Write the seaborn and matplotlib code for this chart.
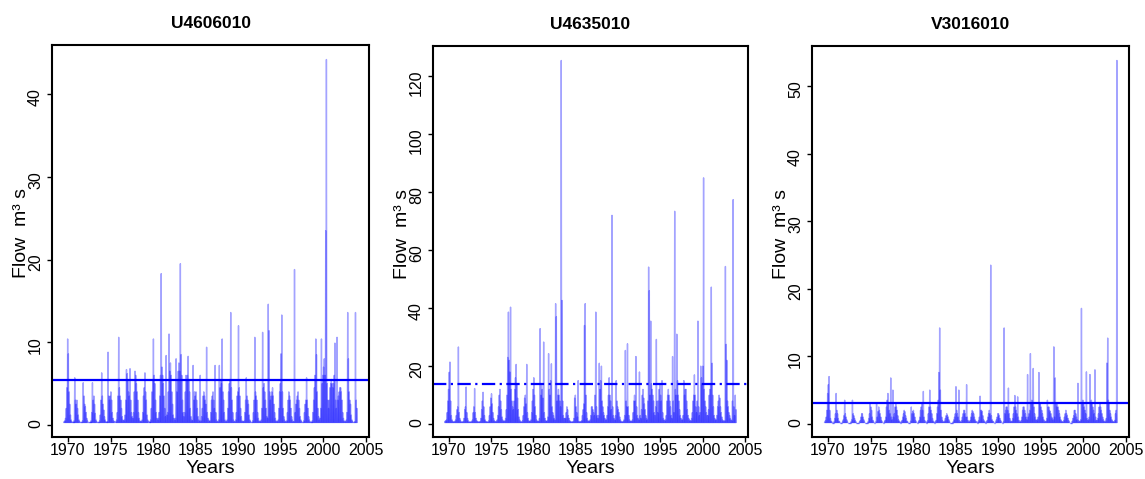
import numpy as np
import pandas as pd
import matplotlib
matplotlib.use("Agg")
import matplotlib.pyplot as plt
import seaborn as sns

# ---------------- data (monthly peak flows) ----------------
stations = ["U4606010", "U4635010", "V3016010"]
start_year, start_month = 1969, 7          # series starts July 1969, ends Dec 2003

u4606010_flow = [
    0.4, 0.5, 0.8, 2.0, 4.5, 10.4,                               # 1969 Jul-Dec
    8.6, 4.0, 2.5, 1.2, 0.6, 0.4, 0.3, 0.3, 0.5, 5.7, 3.0, 2.5,  # 1970
    3.0, 2.0, 1.2, 0.6, 0.4, 0.3, 0.3, 0.3, 0.5, 5.1, 3.5, 2.5,  # 1971
    2.2, 1.5, 0.8, 0.5, 0.3, 0.3, 0.3, 0.3, 0.5, 1.5, 5.1, 3.0,  # 1972
    3.5, 2.5, 1.4, 0.6, 0.4, 0.3, 0.3, 0.3, 0.5, 1.2, 3.0, 6.3,  # 1973
    3.5, 2.5, 1.8, 1.0, 0.6, 0.4, 0.3, 0.4, 8.8, 3.5, 3.0, 3.5,  # 1974
    4.0, 3.0, 1.5, 0.8, 0.5, 0.4, 0.3, 0.4, 0.6, 1.5, 3.5, 10.6, # 1975
    4.5, 3.5, 3.0, 2.0, 1.0, 0.6, 0.5, 0.6, 1.2, 3.0, 6.7, 6.2,  # 1976
    5.5, 4.0, 3.5, 6.8, 3.0, 1.5, 1.0, 0.8, 1.5, 4.0, 6.5, 6.0,  # 1977
    5.0, 4.0, 3.0, 1.5, 0.8, 0.5, 0.4, 0.4, 0.6, 1.5, 3.5, 4.5,  # 1978
    6.3, 4.0, 3.0, 1.2, 0.6, 0.4, 0.3, 0.4, 0.6, 2.0, 4.0, 5.5,  # 1979
    10.4, 6.0, 5.0, 3.0, 1.5, 0.8, 0.6, 0.8, 1.5, 3.5, 6.0, 18.3,# 1980
    7.0, 6.0, 5.0, 3.5, 2.0, 1.0, 8.4, 1.2, 1.5, 4.0, 11.0, 6.5, # 1981
    7.5, 6.0, 4.0, 2.5, 1.2, 0.8, 0.6, 0.8, 8.0, 4.0, 5.5, 6.5,  # 1982
    7.5, 6.5, 19.5, 8.5, 6.0, 3.0, 1.5, 1.0, 1.5, 4.0, 6.0, 5.5, # 1983
    6.0, 8.3, 5.5, 4.0, 2.0, 1.0, 0.6, 0.5, 7.2, 3.0, 4.0, 3.5,  # 1984
    4.0, 3.0, 2.0, 1.0, 0.6, 0.4, 6.0, 0.5, 1.0, 2.0, 3.5, 4.0,  # 1985
    3.5, 3.0, 2.5, 9.4, 1.5, 0.8, 0.6, 0.4, 0.5, 1.5, 3.0, 3.5,  # 1986
    4.0, 3.0, 2.0, 7.2, 1.5, 0.6, 0.4, 0.4, 0.6, 7.2, 4.5, 5.5,  # 1987
    5.0, 10.4, 4.0, 3.0, 1.5, 0.6, 0.4, 0.4, 0.6, 2.0, 4.0, 5.0, # 1988
    5.5, 13.6, 4.5, 3.0, 1.5, 0.6, 0.4, 0.4, 0.6, 1.5, 3.5, 4.0, # 1989
    12.0, 4.5, 3.5, 2.0, 1.0, 0.5, 0.4, 0.4, 0.5, 1.5, 3.0, 5.7, # 1990
    3.5, 3.0, 2.5, 1.2, 0.6, 0.4, 0.3, 0.3, 0.5, 1.5, 3.0, 10.6, # 1991
    4.0, 3.5, 3.0, 1.5, 0.8, 0.5, 0.4, 0.4, 0.6, 2.0, 11.2, 4.5, # 1992
    5.0, 4.0, 3.0, 2.0, 1.0, 0.8, 14.6, 11.4, 4.0, 3.0, 3.5, 4.0,# 1993
    4.5, 3.5, 2.5, 1.5, 0.8, 0.5, 0.4, 0.4, 0.6, 2.0, 4.0, 5.0,  # 1994
    8.6, 13.3, 4.0, 2.0, 1.0, 0.6, 0.4, 0.4, 0.5, 1.5, 3.0, 4.0, # 1995
    3.5, 3.0, 2.0, 1.0, 0.6, 0.4, 0.4, 18.8, 1.5, 2.5, 3.0, 3.5, # 1996
    4.0, 3.0, 2.0, 1.0, 0.6, 0.4, 0.3, 0.3, 0.5, 1.5, 2.5, 3.0,  # 1997
    5.7, 3.0, 2.0, 1.0, 0.6, 0.4, 0.3, 0.3, 0.5, 1.5, 3.0, 4.5,  # 1998
    6.0, 10.4, 8.5, 4.0, 2.0, 1.0, 0.6, 0.8, 2.0, 10.4, 5.0, 6.0,# 1999
    7.0, 8.0, 6.0, 23.5, 44.2, 5.0, 3.0, 2.0, 3.0, 4.5, 5.0, 5.5,# 2000
    5.0, 4.5, 5.0, 6.0, 9.9, 3.0, 2.0, 10.6, 3.0, 3.5, 4.0, 4.5, # 2001
    4.5, 4.0, 3.0, 1.5, 0.8, 0.5, 0.4, 0.4, 0.6, 1.5, 13.6, 8.0, # 2002
    4.0, 3.0, 2.5, 1.2, 0.6, 0.4, 0.3, 0.3, 0.4, 13.6, 3.0, 2.0, # 2003
]

u4635010_flow = [
    1.0, 1.2, 1.5, 4.0, 8.0, 12.0,                                   # 1969 Jul-Dec
    17.9, 21.4, 8.0, 3.0, 1.5, 1.0, 0.8, 0.8, 1.0, 1.5, 3.0, 5.0,    # 1970
    6.0, 26.6, 4.0, 2.0, 1.2, 0.8, 0.8, 0.8, 1.0, 2.0, 5.0, 6.0,     # 1971
    12.8, 4.0, 2.0, 1.2, 0.8, 0.8, 0.8, 0.8, 1.0, 1.5, 4.0, 6.0,     # 1972
    12.3, 4.0, 2.0, 1.2, 1.0, 0.8, 0.8, 0.8, 1.0, 2.0, 5.0, 8.0,     # 1973
    11.0, 6.0, 3.0, 1.5, 1.0, 0.8, 0.8, 0.8, 1.2, 3.0, 6.0, 9.0,     # 1974
    10.5, 7.0, 4.0, 2.0, 1.2, 1.0, 0.8, 1.0, 1.5, 3.0, 6.0, 10.0,    # 1975
    12.0, 8.0, 5.0, 2.5, 1.5, 1.0, 1.0, 1.2, 2.0, 5.0, 10.0, 23.0,   # 1976
    38.6, 22.0, 18.0, 40.3, 12.0, 8.0, 6.0, 5.0, 8.0, 12.0, 16.0, 20.6, # 1977
    14.0, 9.0, 5.0, 2.5, 1.5, 1.0, 0.8, 0.8, 1.2, 3.0, 6.0, 9.0,     # 1978
    10.0, 7.0, 20.6, 4.0, 2.0, 1.2, 1.0, 1.0, 1.5, 4.0, 8.0, 12.0,   # 1979
    16.0, 10.0, 6.0, 3.0, 1.5, 1.0, 1.0, 1.0, 2.0, 32.9, 10.0, 14.0, # 1980
    12.0, 9.0, 28.3, 4.0, 2.0, 1.2, 1.0, 1.2, 2.5, 24.3, 12.0, 10.0, # 1981
    15.0, 20.8, 6.0, 4.0, 3.0, 2.0, 1.5, 41.5, 37.0, 8.0, 10.0, 12.0,# 1982
    10.0, 8.0, 6.0, 125.2, 42.6, 8.0, 3.0, 2.0, 2.0, 2.0, 4.0, 6.0,  # 1983
    5.0, 3.0, 2.0, 1.2, 1.0, 0.8, 0.8, 0.8, 1.0, 2.0, 9.0, 10.0,     # 1984
    6.0, 4.0, 2.5, 15.0, 1.0, 0.8, 0.8, 1.0, 1.2, 3.0, 5.0, 7.0,     # 1985
    34.0, 41.5, 10.0, 4.0, 2.0, 1.2, 1.0, 1.0, 1.5, 3.0, 6.0, 6.0,   # 1986
    5.0, 4.0, 3.0, 10.0, 38.6, 6.0, 3.0, 2.0, 3.0, 21.0, 12.0, 15.0, # 1987
    20.0, 8.0, 6.0, 4.0, 3.0, 2.0, 1.5, 1.5, 3.0, 6.0, 10.0, 16.0,   # 1988
    10.0, 8.0, 5.0, 71.9, 6.0, 3.0, 2.0, 1.5, 3.0, 15.0, 8.0, 6.0,   # 1989
    5.0, 4.0, 2.5, 1.5, 1.0, 0.8, 0.8, 1.0, 1.5, 3.0, 25.4, 8.0,     # 1990
    6.0, 27.7, 6.0, 3.0, 1.5, 1.0, 1.0, 1.0, 1.5, 4.0, 8.0, 10.0,    # 1991
    8.0, 23.3, 6.0, 3.0, 2.0, 1.5, 18.0, 3.0, 2.0, 5.0, 10.0, 12.0,  # 1992
    9.0, 7.0, 5.0, 3.0, 2.0, 1.5, 8.0, 54.1, 46.0, 10.0, 35.5, 14.0, # 1993
    12.0, 10.0, 8.0, 4.0, 3.0, 6.0, 29.2, 8.0, 4.0, 8.0, 12.0, 14.0, # 1994
    10.0, 8.0, 15.0, 4.0, 2.0, 1.5, 1.2, 1.5, 3.0, 8.0, 10.0, 12.0,  # 1995
    10.0, 8.0, 6.0, 3.0, 2.0, 23.3, 8.0, 4.0, 73.3, 12.0, 10.0, 31.0,# 1996
    15.0, 10.0, 8.0, 5.0, 3.0, 2.0, 1.5, 1.5, 3.0, 15.0, 10.0, 12.0, # 1997
    12.0, 8.0, 5.0, 3.0, 2.0, 1.5, 1.2, 1.2, 2.0, 4.0, 8.0, 10.0,    # 1998
    17.0, 10.0, 6.0, 4.0, 8.0, 35.5, 6.0, 3.0, 4.0, 20.0, 16.0, 14.0,# 1999
    20.0, 84.8, 12.0, 8.0, 6.0, 4.0, 3.0, 3.0, 5.0, 10.0, 12.0, 14.0,# 2000
    47.2, 21.0, 10.0, 6.0, 3.0, 2.0, 1.5, 1.5, 3.0, 6.0, 8.0, 10.0,  # 2001
    9.0, 6.0, 4.0, 2.5, 1.5, 1.2, 1.0, 1.2, 54.3, 27.5, 22.0, 8.0,   # 2002
    6.0, 4.0, 3.0, 2.0, 1.5, 1.2, 8.0, 77.3, 6.0, 3.0, 10.0, 5.0,    # 2003
]

v3016010_flow = [
    0.2, 0.3, 0.5, 1.0, 2.0, 4.5,                                # 1969 Jul-Dec
    5.8, 7.0, 2.0, 0.8, 0.4, 0.3, 0.2, 0.2, 0.3, 0.8, 1.5, 4.5,  # 1970
    2.0, 1.5, 0.8, 0.4, 0.3, 0.2, 0.2, 0.2, 0.3, 0.6, 1.2, 3.5,  # 1971
    1.5, 1.0, 0.6, 0.3, 0.2, 0.2, 0.2, 0.2, 0.3, 0.6, 3.5, 1.5,  # 1972
    1.2, 0.8, 0.5, 0.3, 0.2, 0.2, 0.2, 0.2, 0.3, 0.5, 1.0, 1.5,  # 1973
    1.5, 1.0, 0.6, 0.3, 0.2, 0.2, 0.2, 0.2, 0.3, 0.8, 1.5, 3.0,  # 1974
    2.5, 2.0, 1.0, 0.5, 0.3, 0.2, 0.2, 0.3, 3.0, 1.0, 1.8, 2.5,  # 1975
    2.0, 1.5, 1.0, 0.5, 0.3, 0.2, 0.2, 0.3, 0.5, 1.0, 2.5, 3.5,  # 1976
    4.5, 3.0, 2.0, 1.5, 6.8, 1.0, 0.6, 5.0, 1.0, 1.5, 2.5, 3.0,  # 1977
    2.5, 2.0, 1.2, 0.6, 0.4, 0.3, 0.2, 0.3, 0.5, 1.0, 1.5, 2.0,  # 1978
    1.8, 1.2, 0.8, 0.4, 0.3, 0.2, 0.2, 0.2, 0.4, 2.5, 1.5, 1.8,  # 1979
    2.0, 1.5, 1.0, 0.5, 0.3, 0.2, 0.2, 0.3, 0.5, 1.0, 2.0, 2.5,  # 1980
    3.0, 2.0, 4.8, 1.0, 0.5, 0.3, 0.2, 0.3, 0.5, 1.5, 2.5, 5.0,  # 1981
    2.5, 2.0, 1.5, 0.8, 0.4, 0.3, 0.2, 0.3, 0.5, 1.5, 2.5, 3.5,  # 1982
    7.6, 14.2, 5.0, 2.0, 1.0, 0.5, 0.3, 0.3, 0.4, 0.8, 1.2, 1.5, # 1983
    1.2, 1.0, 0.6, 0.3, 0.2, 0.2, 0.2, 0.2, 0.3, 0.6, 1.0, 1.5,  # 1984
    5.5, 2.0, 1.5, 1.0, 5.0, 0.5, 0.3, 0.3, 0.5, 1.0, 1.5, 2.0,  # 1985
    2.0, 1.5, 1.0, 5.8, 1.0, 0.5, 0.3, 0.3, 0.5, 1.0, 1.5, 2.0,  # 1986
    1.8, 1.5, 1.0, 0.6, 0.4, 0.3, 0.2, 0.3, 0.5, 1.0, 4.1, 2.0,  # 1987
    2.0, 1.8, 1.2, 0.6, 0.4, 0.3, 0.2, 0.3, 0.5, 1.0, 1.5, 2.0,  # 1988
    1.5, 23.5, 1.2, 0.6, 0.4, 0.3, 0.2, 0.2, 0.3, 0.6, 1.0, 1.5, # 1989
    1.5, 1.2, 0.8, 0.5, 0.3, 0.2, 0.2, 0.3, 14.2, 1.5, 2.0, 2.5, # 1990
    2.5, 2.0, 5.3, 1.5, 0.8, 0.4, 0.3, 0.4, 0.8, 1.5, 2.5, 4.2,  # 1991
    2.5, 2.0, 1.5, 4.0, 1.0, 0.5, 0.3, 0.3, 0.5, 1.0, 2.0, 2.5,  # 1992
    2.5, 2.0, 1.5, 1.0, 0.6, 7.3, 1.0, 1.5, 2.0, 10.4, 3.0, 3.5, # 1993
    3.0, 8.2, 2.5, 1.5, 1.0, 0.6, 0.5, 0.6, 1.0, 7.6, 3.0, 3.0,  # 1994
    2.5, 2.0, 1.5, 1.0, 0.6, 0.4, 0.3, 0.4, 0.8, 3.5, 2.5, 2.5,  # 1995
    2.0, 1.8, 1.5, 1.0, 0.8, 0.6, 11.4, 1.0, 6.8, 3.0, 2.5, 3.0, # 1996
    2.5, 2.0, 1.5, 1.0, 0.6, 0.4, 0.3, 0.3, 0.5, 1.0, 1.5, 2.0,  # 1997
    1.5, 1.2, 0.8, 0.5, 0.3, 0.2, 0.2, 0.2, 0.4, 0.8, 1.2, 2.0,  # 1998
    2.0, 1.5, 1.0, 0.6, 6.0, 0.5, 0.3, 0.4, 0.6, 17.1, 3.0, 3.5, # 1999
    3.0, 2.5, 2.0, 1.5, 7.7, 0.8, 0.5, 0.6, 1.0, 7.3, 3.0, 3.5,  # 2000
    3.0, 2.5, 2.0, 1.5, 8.0, 1.0, 0.5, 0.5, 0.8, 1.5, 2.5, 3.0,  # 2001
    2.5, 2.0, 1.5, 1.0, 0.6, 0.4, 0.3, 0.4, 0.8, 9.0, 12.7, 3.5, # 2002
    3.0, 2.0, 1.5, 1.0, 0.6, 0.4, 0.3, 0.3, 0.5, 1.5, 2.0, 53.8, # 2003
]

baseflow = [0.3, 0.6, 0.2]            # flow between events
threshold = [5.45, 13.75, 3.1]         # horizontal reference level
y_ticks = [[0, 10, 20, 30, 40],
           [0, 20, 40, 60, 80, 100, 120],
           [0, 10, 20, 30, 40, 50]]
x_ticks = [1970, 1975, 1980, 1985, 1990, 1995, 2000, 2005]
series = [u4606010_flow, u4635010_flow, v3016010_flow]
for s in series:
    assert len(s) == 414, len(s)

# ---------------- styling ----------------
sns.set_theme(style="ticks")
plt.rcParams["font.family"] = ["Liberation Sans", "DejaVu Sans"]
plt.rcParams["axes.edgecolor"] = "black"
plt.rcParams["xtick.color"] = "black"
plt.rcParams["ytick.color"] = "black"
plt.rcParams["text.color"] = "black"
plt.rcParams["axes.labelcolor"] = "black"

W, H = 1145, 479
fig = plt.figure(figsize=(W / 100, H / 100), dpi=100)
boxes = [(52, 45, 369, 437), (433, 46, 748, 437), (812, 46, 1129, 437)]
line_styles = ["-", (0, (6, 2, 1, 2)), "-"]

for k in range(3):
    l, t, r, b = boxes[k]
    ax = fig.add_axes([l / W, 1 - b / H, (r - l) / W, (b - t) / H])
    flow = series[k]
    n = len(flow)
    m0 = start_year + (start_month - 1) / 12
    starts = m0 + np.arange(n) / 12
    rows = []
    for i in range(n):
        rows.append((starts[i], baseflow[k], i))
        rows.append((starts[i] + 0.5 / 12, flow[i], i))
        rows.append((starts[i] + 1 / 12, baseflow[k], i))
    df = pd.DataFrame(rows, columns=["year", "flow", "month"])
    sns.lineplot(data=df, x="year", y="flow", units="month", estimator=None,
                 color="#0000ff", alpha=0.36, lw=1.0, ax=ax, legend=False)
    ax.axhline(threshold[k], color="#0000ff", lw=1.6, ls=line_styles[k])
    ax.set_xticks(x_ticks)
    ax.set_yticks(y_ticks[k])
    ax.margins(x=0.04, y=0.04)
    ax.autoscale_view()
    ax.set_title(stations[k], fontsize=12.5, fontweight="bold", pad=12)
    ax.set_xlabel("Years", fontsize=14, labelpad=1)
    ax.set_ylabel("Flow  m³ s", fontsize=14)
    ax.yaxis.set_label_coords(-0.07, 0.52)
    ax.tick_params(axis="both", labelsize=11.5, length=3.5, width=1, direction="out")
    ax.tick_params(axis="x", pad=1)
    ax.tick_params(axis="y", labelrotation=90, pad=3)
    for sp in ax.spines.values():
        sp.set_linewidth(1.5)
        sp.set_color("black")
        sp.set_visible(True)

fig.savefig("out.png", dpi=100)
